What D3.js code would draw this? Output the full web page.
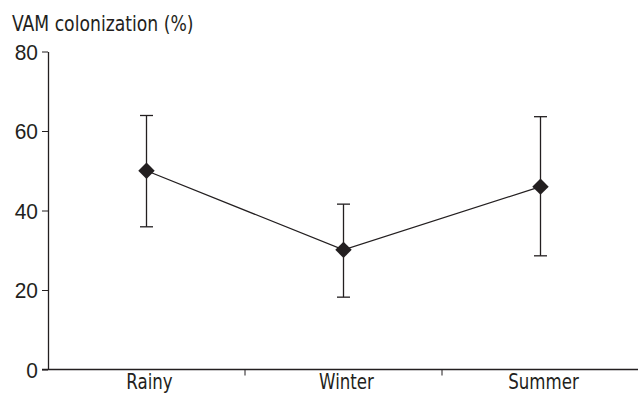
<!DOCTYPE html>
<html>
<head>
<meta charset="utf-8">
<script src="https://cdn.jsdelivr.net/npm/d3@7"></script>
<style>
  body { margin: 0; background: #fff; }
  svg { display: block; font-family: "Liberation Sans Narrow", "DejaVu Sans Condensed", sans-serif; }
</style>
</head>
<body>
<svg id="chart" width="638" height="395"></svg>
<script>
// data
const seasons = ["Rainy", "Winter", "Summer"];
const means = [50, 30.1, 46];
const upper = [63.9, 41.6, 63.6];
const lower = [35.9, 18.2, 28.6];
const yTicks = [0, 20, 40, 60, 80];

const m = { top: 51.5, right: 0, bottom: 25.5, left: 48 }; // margins
const width = 638, height = 395;
const ink = "#231f20";

const svg = d3.select("#chart");

const x = d3.scaleBand().domain(seasons).range([m.left, width + 1]);
const y = d3.scaleLinear().domain([0, 80]).range([height - m.bottom, m.top]);

const rows = seasons.map((s, i) => ({ s, mean: means[i], hi: upper[i], lo: lower[i] }));
const cx = d => x(d.s) + x.bandwidth() / 2;

// squeeze text a bit, the original face is narrower than what we have
function narrow(sel, k) {
  sel.each(function () {
    const w = this.getComputedTextLength();
    d3.select(this).attr("textLength", w * k).attr("lengthAdjust", "spacingAndGlyphs");
  });
}

// y axis
const yAxis = svg.append("g")
  .attr("transform", "translate(" + m.left + ",0)")
  .call(d3.axisLeft(y).tickValues(yTicks).tickSize(6).tickPadding(4).tickSizeOuter(0));
yAxis.select(".domain").attr("stroke", ink).attr("stroke-width", 1.3);
yAxis.selectAll(".tick line").attr("stroke", ink);
yAxis.selectAll(".tick text").attr("font-size", 22).attr("fill", ink).attr("dy", "0.36em")
  .call(narrow, 0.95);

// x axis: ticks sit on the band edges
const xAxis = svg.append("g")
  .attr("transform", "translate(0," + y(0) + ")");
xAxis.append("line")
  .attr("x1", m.left - 6).attr("x2", width)
  .attr("stroke", ink).attr("stroke-width", 1.3);
xAxis.selectAll("line.edge")
  .data(seasons.slice(1))
  .join("line")
  .attr("class", "edge")
  .attr("x1", d => x(d)).attr("x2", d => x(d))
  .attr("y1", 0).attr("y2", 6)
  .attr("stroke", ink);
xAxis.selectAll("text")
  .data(seasons)
  .join("text")
  .attr("x", d => x(d) + x.bandwidth() / 2 + 3)
  .attr("y", 19.5)
  .attr("text-anchor", "middle")
  .attr("font-size", 21)
  .attr("fill", ink)
  .text(d => d)
  .call(narrow, 0.88);

// title
svg.append("text")
  .attr("x", 12).attr("y", 31)
  .attr("font-size", 22)
  .attr("fill", ink)
  .text("VAM colonization (%)")
  .call(narrow, 0.87);

// error bars
const eb = svg.append("g").attr("stroke", ink).attr("stroke-width", 1.3);
eb.selectAll("line.v").data(rows).join("line").attr("class", "v")
  .attr("x1", cx).attr("x2", cx)
  .attr("y1", d => y(d.hi)).attr("y2", d => y(d.lo));
eb.selectAll("line.hi").data(rows).join("line").attr("class", "hi")
  .attr("x1", d => cx(d) - 6.5).attr("x2", d => cx(d) + 6.5)
  .attr("y1", d => y(d.hi)).attr("y2", d => y(d.hi));
eb.selectAll("line.lo").data(rows).join("line").attr("class", "lo")
  .attr("x1", d => cx(d) - 6.5).attr("x2", d => cx(d) + 6.5)
  .attr("y1", d => y(d.lo)).attr("y2", d => y(d.lo));

// mean line
const line = d3.line().x(cx).y(d => y(d.mean));
svg.append("path")
  .datum(rows)
  .attr("fill", "none")
  .attr("stroke", ink)
  .attr("stroke-width", 1.3)
  .attr("d", line);

// diamond markers
const diamond = d3.symbol().type(d3.symbolSquare).size(135);
svg.selectAll("path.pt")
  .data(rows)
  .join("path")
  .attr("class", "pt")
  .attr("transform", d => "translate(" + cx(d) + "," + y(d.mean) + ") rotate(45)")
  .attr("d", diamond)
  .attr("fill", ink);
</script>
</body>
</html>
